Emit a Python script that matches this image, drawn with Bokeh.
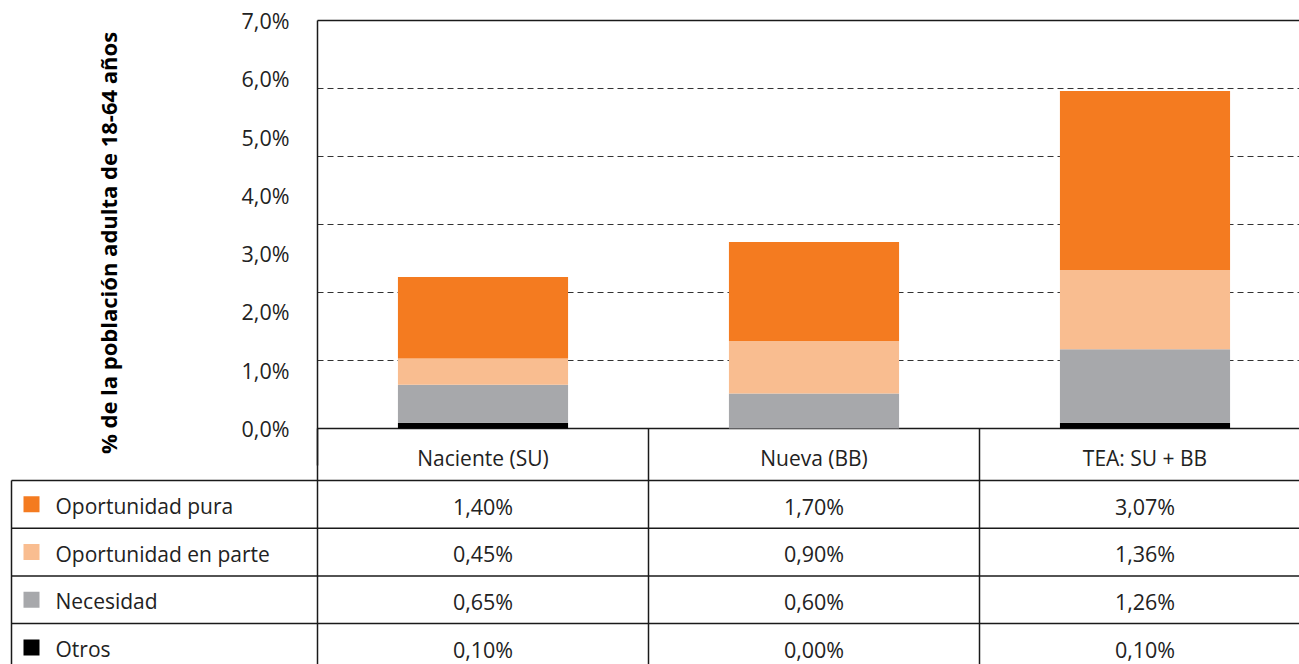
from bokeh.plotting import figure
from bokeh.models import ColumnDataSource, Range1d, LinearAxis, FixedTicker
from bokeh.embed import file_html
from bokeh.resources import INLINE
from bokeh.core.properties import value

# ---------------- data ----------------
categories = ["Naciente (SU)", "Nueva (BB)", "TEA: SU + BB"]
series_names = ["Oportunidad pura", "Oportunidad en parte", "Necesidad", "Otros"]
pura = [1.40, 1.70, 3.07]
parte = [0.45, 0.90, 1.36]
necesidad = [0.65, 0.60, 1.26]
otros = [0.10, 0.00, 0.10]
y_ticks = [0, 1, 2, 3, 4, 5, 6, 7]
y_tick_labels = ["0,0%", "1,0%", "2,0%", "3,0%", "4,0%", "5,0%", "6,0%", "7,0%"]
grid_ticks = [1.1667, 2.3333, 3.5, 4.6667, 5.8333]
y_title = "% de la población adulta de 18-64 años"

# ---------------- style / layout ----------------
C_PURA = "#F47B20"
C_PARTE = "#F9BD90"
C_NEC = "#A7A8AB"
C_OTROS = "#000000"
series_colors = [C_PURA, C_PARTE, C_NEC, C_OTROS]
FONT = "Open Sans"
TXT = "#222222"
FS_TXT = "21px"
FS_NUM = "21.5px"
LC = "#1a1a1a"
LW = 1.5

W, H = 1299, 664
FRAME_L = 317          # screen x of chart's left edge
COL_W = 331.0          # screen width of one category column
Y0_PX, Y7_PX = 428, 20 # screen y of 0 % and 7 %
PX_PER_PCT = (Y0_PX - Y7_PX) / 7.0
HDR_B = 480            # screen y of table header bottom
ROW_H = 47.7
TXT_OFF = 25.5         # text baseline offset inside a row


def px2x(px):
    return -0.5 + (px - FRAME_L) / COL_W


def py2y(py):
    return (Y0_PX - py) / PX_PER_PCT


x_lo, x_hi = px2x(0), px2x(W)
y_lo, y_hi = py2y(H), py2y(0)

p = figure(width=W, height=H,
           x_range=Range1d(x_lo, x_hi), y_range=Range1d(y_lo, y_hi),
           x_axis_type=None, y_axis_type=None,
           output_backend="svg", toolbar_location=None,
           min_border_left=0, min_border_right=0,
           min_border_top=0, min_border_bottom=0)
p.outline_line_color = None
p.background_fill_color = "white"
p.border_fill_color = "white"

# ---------------- y axis (drawn at the chart's left edge) ----------------
yaxis = LinearAxis(ticker=FixedTicker(ticks=y_ticks),
                   major_label_overrides={t: l for t, l in zip(y_ticks, y_tick_labels)},
                   fixed_location=-0.5, bounds=(py2y(465), 7))
yaxis.major_tick_line_color = None
yaxis.minor_tick_line_color = None
yaxis.axis_line_color = LC
yaxis.axis_line_width = LW
yaxis.major_label_standoff = 22
yaxis.major_label_text_font = FONT
yaxis.major_label_text_font_size = FS_NUM
yaxis.major_label_text_color = TXT
yaxis.axis_label = y_title
yaxis.axis_label_text_font = FONT
yaxis.axis_label_text_font_style = "bold"
yaxis.axis_label_text_font_size = "22px"
yaxis.axis_label_text_color = "black"
yaxis.axis_label_standoff = 116
p.add_layout(yaxis, "left")

# ---------------- gridlines and chart border ----------------
p.segment(x0=[-0.5] * len(grid_ticks), x1=[x_hi] * len(grid_ticks),
          y0=grid_ticks, y1=grid_ticks,
          line_color="#333333", line_dash="6 4", line_width=1.2)
p.segment(x0=[-0.5, -0.5], x1=[x_hi, x_hi], y0=[y_ticks[-1], y_ticks[0]],
          y1=[y_ticks[-1], y_ticks[0]], line_color=LC, line_width=LW)

# ---------------- stacked bars ----------------
src = ColumnDataSource(dict(x=list(range(len(categories))),
                            otros=otros, necesidad=necesidad,
                            parte=parte, pura=pura))
p.vbar_stack(["otros", "necesidad", "parte", "pura"], x="x", width=0.514,
             fill_color=[C_OTROS, C_NEC, C_PARTE, C_PURA],
             line_color=None, source=src)

# ---------------- data table ----------------
n_rows = len(series_names)
n_cols = len(categories)
row_tops = [py2y(HDR_B + r * ROW_H) for r in range(n_rows)]
row_mids = [py2y(HDR_B + (r + 0.5) * ROW_H) for r in range(n_rows)]
row_base = [py2y(HDR_B + r * ROW_H + TXT_OFF) for r in range(n_rows)]
x_left = px2x(11)

# horizontal row lines
p.segment(x0=[x_left] * n_rows, x1=[x_hi] * n_rows, y0=row_tops, y1=row_tops,
          line_color=LC, line_width=LW)
# vertical column lines
vx = [i - 0.5 for i in range(n_cols)]
p.segment(x0=vx, x1=vx, y0=[0] * n_cols, y1=[y_lo] * n_cols,
          line_color=LC, line_width=LW)
p.segment(x0=[x_left], x1=[x_left], y0=[row_tops[0]], y1=[y_lo],
          line_color=LC, line_width=LW)

# header
p.text(x=list(range(n_cols)), y=[py2y(457.5)] * n_cols,
       text=categories, text_align="center", text_baseline="alphabetic",
       text_font=value(FONT), text_font_size=FS_TXT, text_color=TXT)

# legend squares and row labels
p.scatter(x=[px2x(31)] * n_rows, y=row_mids,
          marker="square", size=16, fill_color=series_colors, line_color=None)
p.text(x=[px2x(55)] * n_rows, y=row_base,
       text=series_names, text_align="left", text_baseline="alphabetic",
       text_font=value(FONT), text_font_size=FS_TXT, text_color=TXT)

# values
all_series = [pura, parte, necesidad, otros]
vx_, vy_, vt_ = [], [], []
for r, ser in enumerate(all_series):
    for i, v in enumerate(ser):
        vx_.append(i)
        vy_.append(row_base[r])
        vt_.append(f"{v:.2f}".replace(".", ",") + "%")
p.text(x=vx_, y=vy_, text=vt_, text_align="center", text_baseline="alphabetic",
       text_font=value(FONT), text_font_size=FS_NUM, text_color=TXT)

open("out.html", "w").write(file_html(p, INLINE))
